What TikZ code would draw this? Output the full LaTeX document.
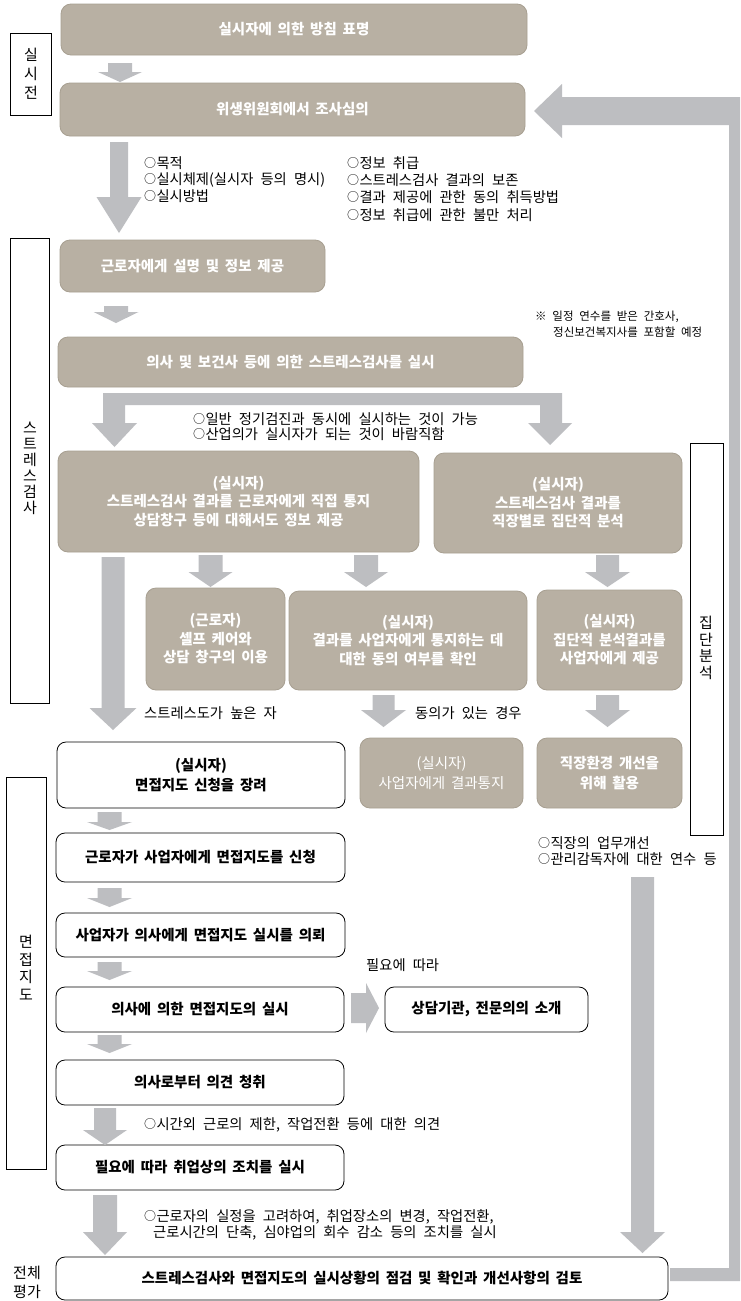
\documentclass[tikz,border=0pt]{standalone}
\usepackage{fontspec}
\setmainfont{Noto Sans CJK KR}
\definecolor{boxgray}{HTML}{B8B0A3}
\definecolor{boxedge}{HTML}{A79F91}
\definecolor{arrgray}{HTML}{BDBEC1}
\newcommand\oc{\raisebox{0.8pt}{\fontsize{12}{12}\selectfont ○}\hspace{0.3pt}}
\newcommand\widesp{\spaceskip 0.5em\relax}
\newcommand\boxsp{\spaceskip 0.4em\relax}
\tikzset{
  arr/.style={fill=arrgray},
  gbox/.style={draw=boxedge, line width=0.8pt, fill=boxgray, rounded corners=10pt, text=white,
    font={\bfseries\fontsize{14.5}{18.5}\selectfont\boxsp}, align=center, inner sep=0pt, outer sep=0pt, anchor=north west},
  wbox/.style={draw=black, line width=0.8pt, fill=white, rounded corners=9pt, text=black,
    font={\bfseries\fontsize{14.5}{20}\selectfont\boxsp}, align=center, inner sep=0pt, outer sep=0pt, anchor=north west},
  lbox/.style={draw=black, line width=0.7pt, fill=white},
  note/.style={font={\fontsize{14.3}{16}\selectfont\widesp}, anchor=west, inner sep=0pt, align=left},
  smallnote/.style={font={\fontsize{11.5}{13}\selectfont\spaceskip 0.5em\relax}, anchor=west, inner sep=0pt, align=left},
  vlab/.style={font=\fontsize{15}{#1}\selectfont, align=center, inner sep=0pt},
}
\newcommand\blkdown[6]{% xc, ytop, ybase, ytip, stemhalf, headhalf
  \fill[arr] (#1-#5,#2) -- (#1+#5,#2) -- (#1+#5,#3) -- (#1+#6,#3) -- (#1,#4) -- (#1-#6,#3) -- (#1-#5,#3) -- cycle;}
\begin{document}
\begin{tikzpicture}[x=1pt,y=-1pt]
\useasboundingbox[fill=white] (0,0) rectangle (740,1301);

% left / right label boxes
\draw[lbox] (10,33) rectangle (51,115);
\node[vlab=19] (l1) at (31,74) {실\\시\\전};
\draw[lbox] (10,238) rectangle (49,703);
\node[vlab=16] (l2) at (30,468) {스\\트\\레\\스\\검\\사};
\draw[lbox] (690,443) rectangle (723,835);
\node[vlab=16.7] (l3) at (706,648) {집\\단\\분\\석};
\draw[lbox] (6,777) rectangle (46,1169);
\node[vlab=17.5] (l4) at (26,968) {면\\접\\지\\도};
\node[vlab=19] (l5) at (27,1282) {전체\\평가};

% boxes
\node[gbox, minimum width=466pt, minimum height=51pt] (b1) at (61,4) {실시자에 의한 방침 표명};
\node[gbox, minimum width=465pt, minimum height=53pt] (b2) at (60,83) {위생위원회에서 조사심의};
\node[gbox, minimum width=265pt, minimum height=52pt] (b3) at (60,240) {근로자에게 설명 및 정보 제공};
\node[gbox, minimum width=465pt, minimum height=50pt] (b4) at (58,337) {의사 및 보건사 등에 의한 스트레스검사를 실시};
\node[gbox, minimum width=361pt, minimum height=101pt] (b5) at (58,451) {(실시자)\\스트레스검사 결과를 근로자에게 직접 통지\\상담창구 등에 대해서도 정보 제공};
\node[gbox, minimum width=248pt, minimum height=100pt] (b6) at (434,453) {(실시자)\\스트레스검사 결과를\\직장별로 집단적 분석};
\node[gbox, minimum width=139pt, minimum height=102pt] (b7) at (146,588) {(근로자)\\셀프 케어와\\상담 창구의 이용};
\node[gbox, minimum width=238pt, minimum height=99pt] (b8) at (289,591) {(실시자)\\결과를 사업자에게 통지하는 데\\대한 동의 여부를 확인};
\node[gbox, minimum width=145pt, minimum height=100pt] (b9) at (537,590) {(실시자)\\집단적 분석결과를\\사업자에게 제공};
\node[wbox, minimum width=288pt, minimum height=66pt] (b10) at (57,742) {(실시자)\\면접지도 신청을 장려};
\node[gbox, minimum width=163pt, minimum height=70pt, font={\fontsize{14.5}{20}\selectfont\boxsp}] (b11) at (360,738) {(실시자)\\사업자에게 결과통지};
\node[gbox, minimum width=145pt, minimum height=70pt, font={\bfseries\fontsize{14.5}{20}\selectfont\boxsp}] (b12) at (537,738) {직장환경 개선을\\위해 활용};
\node[wbox, minimum width=289pt, minimum height=49pt] (b13) at (56,833) {근로자가 사업자에게 면접지도를 신청};
\node[wbox, minimum width=289pt, minimum height=44pt] (b14) at (56,913) {사업자가 의사에게 면접지도 실시를 의뢰};
\node[wbox, minimum width=288pt, minimum height=45pt] (b15) at (56,987) {의사에 의한 면접지도의 실시};
\node[wbox, minimum width=203pt, minimum height=45pt] (b16) at (385,987) {상담기관, 전문의의 소개};
\node[wbox, minimum width=288pt, minimum height=45pt] (b17) at (56,1060) {의사로부터 의견 청취};
\node[wbox, minimum width=288pt, minimum height=45pt] (b18) at (56,1145) {필요에 따라 취업상의 조치를 실시};
\node[wbox, minimum width=612pt, minimum height=43pt] (b19) at (56,1257) {스트레스검사와 면접지도의 실시상황의 점검 및 확인과 개선사항의 검토};

% block arrows
\blkdown{120}{63}{72}{82}{12}{22}
\blkdown{119}{142}{197}{233}{9}{22.5}
\blkdown{116}{306}{312}{323}{12}{22.5}
\fill[arr] (103,423) -- (103,393) -- (562,393) -- (562,423) -- (572,423) -- (550,445) -- (528,423)
  -- (540,423) -- (540,405) -- (125,405) -- (125,423) -- (137,423) -- (114.5,447) -- (92,423) -- cycle;
\blkdown{113}{557}{708}{730}{11.5}{23.5}
\blkdown{210.5}{555}{572}{587}{12}{22}
\blkdown{366}{555}{572}{587}{12}{22}
\blkdown{607.5}{555}{572}{587}{11.5}{22.5}
\blkdown{383.5}{695}{710}{727}{11}{22.5}
\blkdown{607.5}{695}{710}{727}{11.5}{22.5}
\blkdown{109.5}{812}{822}{830}{12}{22.5}
\blkdown{109.5}{888}{898}{907}{12}{22.5}
\blkdown{109.5}{962}{971}{980}{12}{22.5}
\blkdown{109.5}{1035}{1044}{1053}{12}{22.5}
\blkdown{105}{1108}{1130}{1145}{11}{22}
\blkdown{105}{1195}{1232}{1255}{12}{22}
\blkdown{642.5}{877}{1232}{1253}{11.5}{22.5}
\fill[arr] (351,993) -- (366,993) -- (366,983) -- (379,1008) -- (366,1033) -- (366,1023) -- (351,1023) -- cycle;
\fill[arr] (670,1268) -- (729,1268) -- (729,125) -- (562,125) -- (562,138) -- (534,111) -- (562,84)
  -- (562,97) -- (740,97) -- (740,1281) -- (670,1281) -- cycle;

% annotations
\node[note] (n1) at (144,163) {\oc 목적};
\node[note] (n2) at (144,180) {\oc 실시체제(실시자 등의 명시)};
\node[note] (n3) at (144,196) {\oc 실시방법};
\node[note] (n4) at (347,163) {\oc 정보 취급};
\node[note] (n5) at (347,180) {\oc 스트레스검사 결과의 보존};
\node[note] (n6) at (347,197) {\oc 결과 제공에 관한 동의 취득방법};
\node[note] (n7) at (347,215) {\oc 정보 취급에 관한 불만 처리};
\node[smallnote] (n8) at (535,317) {※ 일정 연수를 받은 간호사,};
\node[smallnote] (n9) at (553,332) {정신보건복지사를 포함할 예정};
\node[note] (n10) at (193,419) {\oc 일반 정기검진과 동시에 실시하는 것이 가능};
\node[note] (n11) at (193,434) {\oc 산업의가 실시자가 되는 것이 바람직함};
\node[note] (n12) at (144,713) {스트레스도가 높은 자};
\node[note] (n13) at (415,713) {동의가 있는 경우};
\node[note] (n14) at (538,843) {\oc 직장의 업무개선};
\node[note] (n15) at (538,859) {\oc 관리감독자에 대한 연수 등};
\node[note] (n16) at (366,965) {필요에 따라};
\node[note] (n17) at (144,1125) {\oc 시간외 근로의 제한, 작업전환 등에 대한 의견};
\node[note] (n18) at (144,1217) {\oc 근로자의 실정을 고려하여, 취업장소의 변경, 작업전환,};
\node[note] (n19) at (153,1233) {근로시간의 단축, 심야업의 회수 감소 등의 조치를 실시};
\end{tikzpicture}
\end{document}
